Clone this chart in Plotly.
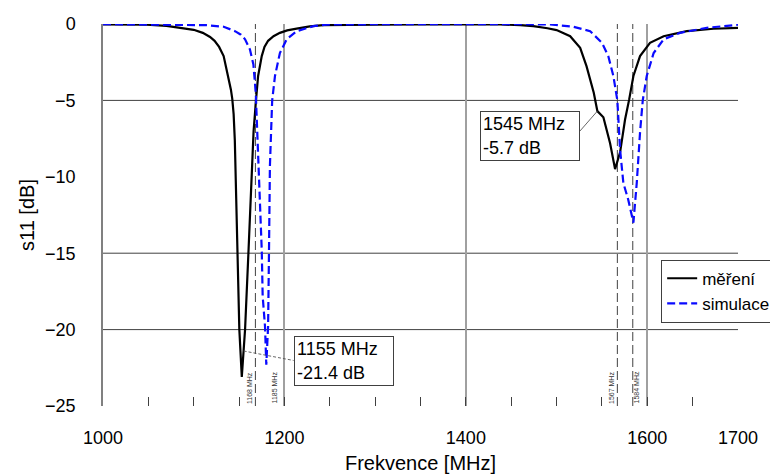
import plotly.graph_objects as go

# Measured reflection coefficient (s11) vs frequency
freq_meas = [1000, 1020, 1048, 1070, 1088, 1100, 1110, 1118, 1123, 1128, 1133, 1138, 1141,
             1142.5, 1144, 1145.3, 1146.5, 1147.8, 1150.3, 1153, 1155, 1156.6, 1160.3, 1163.5,
             1166, 1168.7, 1171, 1175, 1178, 1182, 1188, 1195, 1203, 1213.5, 1228, 1242.6,
             1270, 1300, 1350, 1400, 1437.7, 1460, 1474.4, 1490, 1500, 1515, 1526, 1533,
             1541, 1545, 1551.6, 1559, 1564.5, 1570, 1575.5, 1580, 1584.7, 1592, 1603,
             1618, 1643.5, 1673, 1700]
s11_meas = [-0.02, -0.03, -0.05, -0.12, -0.25, -0.38, -0.58, -0.85, -1.1, -1.5, -2.1, -3.4, -4.3,
            -4.9, -5.9, -7.6, -10.5, -15.0, -20.0, -23.1, -21.4, -20.0, -15.0, -10.0,
            -7.0, -4.95, -3.4, -2.1, -1.5, -1.1, -0.8, -0.58, -0.42, -0.3, -0.16, -0.08,
            -0.05, -0.04, -0.03, -0.03, -0.03, -0.08, -0.14, -0.28, -0.4, -0.8, -1.56, -2.76,
            -4.5, -5.7, -6.1, -7.8, -9.5, -8.4, -6.25, -4.95, -3.4, -2.1, -1.23,
            -0.8, -0.47, -0.31, -0.25]

# Simulated s11
freq_sim = [1000, 1050, 1090, 1114, 1133, 1145.5, 1152, 1156.6, 1162, 1165.8, 1168.4, 1169.5,
            1171, 1173, 1175, 1176, 1178.6, 1180, 1181.2, 1182, 1183, 1184, 1186.5, 1189.6,
            1195, 1202.5, 1213.5, 1232, 1250, 1300, 1400, 1450, 1493, 1518.5, 1537, 1550,
            1557, 1562.6, 1567, 1570, 1573.6, 1579, 1584.7, 1588.4, 1592, 1595, 1599.4,
            1607, 1618, 1636, 1665.6, 1700]
s11_sim = [-0.01, -0.02, -0.04, -0.08, -0.18, -0.47, -0.7, -1.0, -1.67, -2.65, -4.5, -6.25,
           -8.2, -11.5, -14.8, -17.8, -19.8, -22.3, -21.0, -19.8, -14.8, -9.3, -5.0, -3.4,
           -1.9, -1.0, -0.47, -0.14, -0.02, -0.01, -0.01, -0.01, -0.03, -0.18, -0.47, -1.23,
           -2.1, -3.4, -5.0, -8.2, -10.4, -11.5, -13.0, -10.4, -7.1, -5.0, -3.4,
           -1.9, -1.0, -0.58, -0.25, -0.05]

# Resonance markers and annotated points
marker_freqs = [1168, 1567, 1584]
marker_labels = [(1168, "1168 MHz", -6), (1185, "1185 MHz", 4), (1567, "1567 MHz", -6), (1584, "1584 MHz", 4)]
# (freq, value, text, box offset px, connector end offset px, connector dash)
callouts = [(1155, -21.4, "1155 MHz<br>-21.4 dB", (100, 10.5), (50, 9.5), "3px,2px"),
            (1545, -5.7, "1545 MHz<br>-5.7 dB", (-67, 24.5), (-17.5, 20), "solid")]
grid_levels = [-5, -15, -20]
x_tickvals = [1000, 1200, 1400, 1600, 1700]

FONT = "Liberation Sans, Arial, sans-serif"
X_RANGE = [1000, 1700]
Y_RANGE = [-25, 0]
MARGIN = dict(l=103, r=32, t=24, b=68)
W, H = 770, 474
plot_w = W - MARGIN["l"] - MARGIN["r"]
plot_h = H - MARGIN["t"] - MARGIN["b"]
mhz_per_px = (X_RANGE[1] - X_RANGE[0]) / plot_w
db_per_px = (Y_RANGE[1] - Y_RANGE[0]) / plot_h

fig = go.Figure()
fig.add_trace(go.Scatter(x=freq_meas, y=s11_meas, mode="lines", name="měření",
                         line=dict(color="#000000", width=2.2)))
fig.add_trace(go.Scatter(x=freq_sim, y=s11_sim, mode="lines", name="simulace",
                         line=dict(color="#0a0aff", width=2.2, dash="8px,4px")))

shapes = []
for g in grid_levels:
    shapes.append(dict(type="line", xref="paper", yref="y", x0=0, x1=1, y0=g, y1=g,
                       line=dict(color="#404040", width=1), layer="below"))
for f in marker_freqs:
    shapes.append(dict(type="line", xref="x", yref="paper", x0=f, x1=f, y0=0, y1=1,
                       line=dict(color="#404040", width=1, dash="9px,4px"), layer="below"))

annotations = []
for f, txt, sh in marker_labels:
    annotations.append(dict(x=f, y=-23.8, xref="x", yref="y", text=txt, showarrow=False,
                            textangle=-90, xshift=sh, font=dict(family=FONT, size=7, color="#333333")))
for f, v, txt, (bx, by), (cx, cy), dash in callouts:
    # connector from the point to the box edge
    shapes.append(dict(type="line", xref="x", yref="y", x0=f, y0=v,
                       x1=f + cx * mhz_per_px, y1=v - cy * db_per_px,
                       line=dict(color="#555555", width=0.9, dash=dash)))
    annotations.append(dict(x=f, y=v, xref="x", yref="y", text=txt, showarrow=False,
                            xshift=bx, yshift=-by,
                            align="left", bgcolor="white", bordercolor="#404040", borderwidth=1,
                            borderpad=2, width=94, height=44,
                            font=dict(family=FONT, size=18, color="#000000")))

fig.update_layout(
    width=W, height=H,
    margin=dict(**MARGIN, autoexpand=False),
    paper_bgcolor="white", plot_bgcolor="white",
    font=dict(family=FONT, size=18, color="#000000"),
    shapes=shapes, annotations=annotations,
    legend=dict(x=0.879, y=0.383, xanchor="left", yanchor="top",
                bgcolor="white", bordercolor="#404040", borderwidth=1,
                font=dict(family=FONT, size=17, color="#000000")),
    xaxis=dict(range=X_RANGE, tickvals=x_tickvals, showgrid=True, gridcolor="#a0a0a0",
               gridwidth=2, zeroline=False, showline=False, ticks="inside", ticklen=9,
               tickcolor="#404040", ticklabelstandoff=19,
               minor=dict(dtick=50, tick0=1000, ticks="inside", ticklen=9, tickcolor="#404040",
                          showgrid=False),
               title=dict(text="Frekvence [MHz]", standoff=8, font=dict(size=20))),
    yaxis=dict(range=Y_RANGE, dtick=5, showgrid=False, zeroline=False, showline=True,
               linecolor="#808080", linewidth=1.5, ticks="", ticklabelstandoff=22,
               title=dict(text="s11 [dB]", standoff=5, font=dict(size=20))),
)

fig.write_html("out.html")
